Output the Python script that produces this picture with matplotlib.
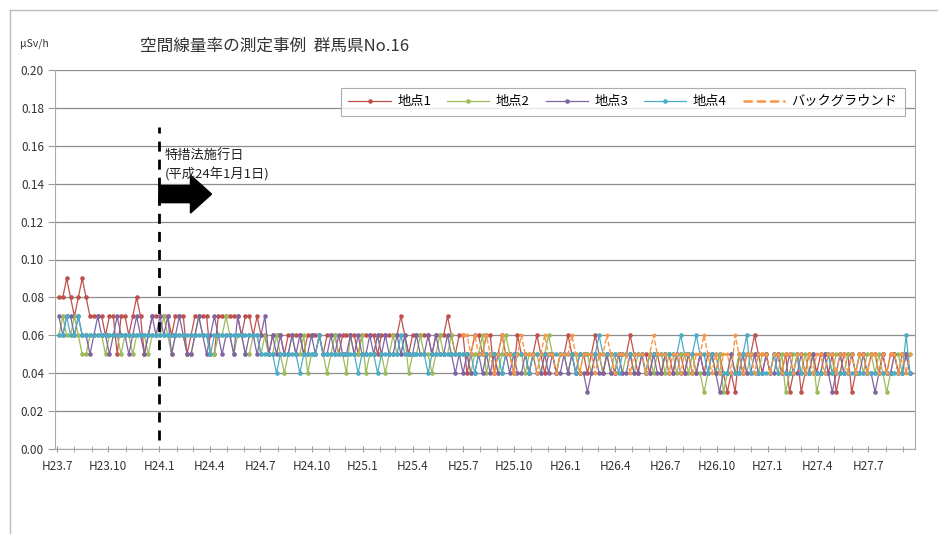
# Air dose rate example, Gunma No.16 (weekly readings, uSv/h)
import numpy as np
import pandas as pd
import matplotlib
matplotlib.use("Agg")
import matplotlib.pyplot as plt
import matplotlib.dates as mdates
from matplotlib.patches import FancyArrow
from matplotlib.lines import Line2D

plt.rcParams['font.family'] = ['Noto Sans CJK JP', 'DejaVu Sans']

# Readings in units of 0.01 uSv/h, one row per half year (26 weeks)
point1 = [8, 8, 9, 8, 7, 8, 9, 8, 7, 7, 7, 7, 6, 7, 7, 5, 7, 7, 6, 7, 8, 7, 5, 6, 7, 7,
          7, 7, 7, 6, 7, 7, 7, 5, 6, 7, 7, 7, 7, 5, 5, 7, 7, 7, 7, 7, 7, 6, 7, 7, 6, 7,
          6, 6, 5, 6, 6, 6, 5, 6, 6, 6, 6, 5, 6, 6, 6, 6, 5, 6, 6, 6, 5, 6, 6, 6, 6, 5,
          6, 6, 6, 6, 5, 6, 6, 6, 6, 6, 7, 6, 5, 6, 6, 6, 6, 6, 5, 6, 6, 6, 7, 6, 5, 6,
          6, 4, 5, 6, 6, 5, 6, 6, 4, 5, 6, 5, 5, 4, 6, 5, 5, 4, 5, 6, 5, 4, 5, 5, 4, 5,
          5, 6, 5, 4, 5, 5, 4, 5, 6, 5, 4, 5, 5, 4, 5, 5, 5, 6, 5, 4, 5, 5, 4, 5, 5, 4,
          5, 5, 4, 5, 5, 4, 5, 5, 4, 5, 4, 5, 5, 4, 5, 4, 3, 4, 3, 5, 4, 5, 5, 6, 5, 4,
          5, 4, 5, 5, 4, 5, 3, 4, 5, 3, 4, 5, 5, 4, 5, 5, 4, 5, 3, 4, 5, 5, 3, 4, 5, 5,
          4, 5, 5, 4, 5, 4, 5, 5, 4, 5, 5, 4]
point2 = [6, 7, 6, 6, 7, 6, 5, 5, 6, 6, 6, 6, 5, 6, 6, 6, 5, 6, 6, 5, 6, 6, 6, 5, 6, 6,
          6, 7, 6, 5, 6, 6, 6, 5, 5, 6, 7, 6, 6, 5, 5, 6, 6, 7, 6, 5, 6, 6, 5, 5, 6, 6,
          5, 6, 5, 5, 6, 5, 4, 5, 6, 5, 5, 6, 4, 5, 5, 6, 5, 4, 5, 6, 5, 5, 4, 6, 5, 5,
          6, 4, 5, 5, 6, 5, 4, 5, 6, 5, 5, 6, 4, 5, 5, 6, 5, 5, 4, 5, 6, 5, 5, 6, 5, 5,
          5, 5, 4, 5, 5, 6, 4, 5, 5, 4, 5, 6, 5, 4, 5, 5, 4, 5, 5, 5, 4, 5, 6, 5, 4, 5,
          5, 4, 5, 5, 4, 5, 5, 4, 5, 5, 4, 5, 4, 5, 5, 4, 5, 5, 4, 5, 5, 4, 5, 4, 5, 5,
          4, 5, 5, 4, 5, 5, 4, 5, 4, 4, 3, 4, 5, 4, 5, 3, 4, 5, 4, 5, 5, 4, 5, 5, 4, 5,
          5, 4, 5, 4, 5, 3, 4, 5, 5, 4, 5, 4, 5, 3, 4, 5, 5, 4, 5, 5, 4, 5, 5, 4, 5, 4,
          5, 5, 4, 5, 4, 3, 4, 5, 5, 4, 5, 5]
point3 = [7, 6, 7, 7, 6, 7, 6, 6, 5, 6, 7, 6, 6, 5, 6, 7, 6, 6, 5, 6, 7, 6, 5, 6, 7, 6,
          7, 6, 7, 5, 6, 7, 6, 5, 5, 6, 7, 6, 5, 6, 7, 6, 5, 6, 6, 5, 7, 6, 5, 6, 6, 5,
          6, 7, 5, 6, 5, 6, 5, 5, 6, 5, 6, 5, 5, 6, 5, 6, 5, 5, 6, 5, 6, 5, 5, 6, 5, 6,
          5, 5, 6, 5, 6, 5, 6, 5, 5, 6, 5, 6, 5, 5, 6, 5, 5, 6, 5, 6, 5, 5, 6, 5, 4, 5,
          4, 5, 4, 4, 5, 4, 5, 4, 5, 4, 4, 5, 4, 5, 4, 4, 5, 4, 5, 4, 4, 5, 4, 5, 4, 4,
          5, 4, 5, 4, 4, 4, 3, 4, 5, 4, 4, 5, 4, 4, 5, 4, 4, 5, 4, 4, 5, 4, 4, 5, 4, 4,
          5, 4, 4, 5, 4, 4, 5, 4, 4, 5, 4, 4, 5, 4, 3, 4, 4, 5, 4, 4, 5, 4, 4, 5, 4, 4,
          5, 4, 4, 5, 4, 4, 5, 4, 4, 5, 4, 4, 5, 4, 4, 5, 4, 3, 4, 5, 4, 4, 5, 4, 4, 5,
          4, 4, 3, 4, 5, 4, 4, 5, 4, 4, 5, 4]
point4 = [6, 6, 7, 6, 6, 7, 6, 6, 6, 6, 6, 6, 6, 6, 6, 6, 6, 6, 6, 6, 6, 6, 6, 6, 6, 6,
          6, 6, 6, 6, 6, 6, 6, 6, 6, 6, 6, 6, 6, 5, 6, 6, 6, 6, 6, 6, 6, 6, 6, 6, 6, 6,
          5, 5, 5, 5, 4, 5, 5, 5, 5, 5, 4, 5, 5, 5, 5, 6, 5, 5, 5, 5, 5, 5, 5, 5, 5, 4,
          5, 5, 5, 5, 4, 5, 5, 5, 5, 5, 6, 5, 5, 5, 5, 5, 5, 4, 5, 5, 5, 5, 5, 5, 5, 5,
          5, 5, 5, 4, 5, 5, 5, 5, 5, 5, 4, 5, 5, 5, 5, 5, 5, 4, 5, 5, 5, 5, 5, 5, 5, 5,
          5, 5, 5, 4, 5, 5, 5, 5, 5, 6, 5, 5, 5, 5, 4, 5, 5, 5, 5, 5, 5, 4, 5, 5, 5, 5,
          5, 5, 5, 5, 6, 5, 5, 5, 6, 5, 5, 4, 5, 5, 4, 4, 4, 4, 4, 4, 5, 6, 4, 4, 4, 4,
          4, 4, 5, 4, 4, 4, 4, 4, 5, 4, 4, 4, 4, 4, 4, 4, 5, 4, 4, 4, 4, 4, 4, 4, 4, 4,
          4, 4, 4, 4, 4, 4, 4, 4, 4, 4, 6, 4]
# background readings start in H25.7 (week 104)
background = [6, 6, 5, 6, 5, 5, 6, 5, 4, 5, 6, 5, 5, 4, 5, 6, 5, 5, 5, 4, 5, 6, 5, 5, 4, 5,
              5, 5, 6, 5, 4, 5, 5, 5, 4, 5, 5, 6, 5, 4, 5, 5, 5, 4, 5, 5, 5, 4, 5, 6, 5, 5,
              5, 4, 5, 5, 4, 5, 5, 4, 5, 5, 6, 5, 4, 5, 4, 5, 5, 4, 6, 5, 4, 5, 5, 4, 5, 5,
              5, 4, 5, 5, 4, 5, 5, 4, 5, 5, 4, 5, 4, 5, 5, 4, 5, 5, 4, 5, 5, 4, 5, 4, 5, 5,
              4, 5, 5, 4, 5, 4, 5, 5, 4, 5, 4, 5]

labels = ['地点1', '地点2', '地点3', '地点4', 'バックグラウンド']
colors = ['#C0504D', '#9BBB59', '#8064A2', '#4BACC6', '#F79646']
tick_labels = ['H23.7', 'H23.10', 'H24.1', 'H24.4', 'H24.7', 'H24.10', 'H25.1', 'H25.4',
               'H25.7', 'H25.10', 'H26.1', 'H26.4', 'H26.7', 'H26.10', 'H27.1', 'H27.4', 'H27.7']

dates = pd.date_range('2011-07-04', periods=len(point1), freq='7D')
bg_dates = dates[len(point1) - len(background):]
law_date = pd.Timestamp('2012-01-01')

fig = plt.figure(figsize=(9.38, 5.34), dpi=100)
ax = fig.add_axes([55 / 938, 1 - 449 / 534, 860 / 938, 379 / 534])

for vals, lab, col in zip([point1, point2, point3, point4], labels[:4], colors[:4]):
    ax.plot(dates, np.array(vals) / 100, color=col, lw=0.9, marker='o', ms=3.3,
            markeredgewidth=0, label=lab)
ax.plot(bg_dates, np.array(background) / 100, color=colors[4], lw=1.0, ls='--',
        marker='o', ms=2.8, markeredgewidth=0)

# date the special measures law took effect
ax.plot([law_date, law_date], [0.005, 0.17], color='black', lw=2, dashes=(3.6, 2.9))
x0 = mdates.date2num(law_date)
ax.add_patch(FancyArrow(x0 - 1, 0.1345, 95, 0, width=0.009, head_width=0.020,
                        head_length=38, length_includes_head=True, color='black'))
ax.text(x0 + 9, 0.1495, '特措法施行日\n(平成24年1月1日)', fontsize=9.5, color='#222222',
        va='center', ha='left', linespacing=1.5)

ax.set_ylim(0, 0.20)
ax.set_yticks(np.arange(0, 0.201, 0.02))
ax.yaxis.set_major_formatter(matplotlib.ticker.FormatStrFormatter('%.2f'))
ax.set_xlim(pd.Timestamp('2011-06-27'), pd.Timestamp('2015-09-23'))
tick_pos = pd.date_range('2011-07-01', periods=len(tick_labels), freq='3MS')
ax.set_xticks(mdates.date2num(tick_pos.to_pydatetime()))
ax.set_xticklabels(tick_labels)
ax.xaxis.set_minor_locator(mdates.MonthLocator())
ax.tick_params(axis='x', which='both', direction='inout', length=4, color='#999999',
               labelsize=8.5, labelcolor='#333333', pad=6)
ax.tick_params(axis='y', direction='out', length=5, color='#999999',
               labelsize=8.5, labelcolor='#333333', pad=3)
ax.grid(axis='y', color='#8c8c8c', lw=0.9)
ax.set_axisbelow(True)
for side in ['left', 'right', 'bottom']:
    ax.spines[side].set_color('#aaaaaa')
ax.spines['top'].set_visible(False)

handles = [Line2D([], [], color=c, lw=0.9, marker='o', ms=3.3, markeredgewidth=0)
           for c in colors[:4]]
handles.append(Line2D([], [], color=colors[4], lw=1.8, ls='--'))
leg = ax.legend(handles, labels, loc='upper right', bbox_to_anchor=(0.988, 0.9525), ncol=5,
                fontsize=9.5, frameon=True, fancybox=False, handlelength=3.2,
                columnspacing=1.2, handletextpad=0.5, borderpad=0.55, borderaxespad=0)
leg.get_frame().set_edgecolor('#999999')
leg.get_frame().set_linewidth(0.8)

fig.text(140 / 938, 1 - 46 / 534, '空間線量率の測定事例  群馬県No.16', fontsize=12,
         color='#333333', va='center')
fig.text(20 / 938, 1 - 44 / 534, 'µSv/h', fontsize=7.5, color='#333333', va='center')

# chart area border
fig.add_artist(Line2D([10 / 938, 10 / 938], [0, 1 - 10 / 534], color='#bbbbbb', lw=1))
fig.add_artist(Line2D([10 / 938, 1], [1 - 10 / 534, 1 - 10 / 534], color='#bbbbbb', lw=1))

fig.savefig('out.png', dpi=100)
